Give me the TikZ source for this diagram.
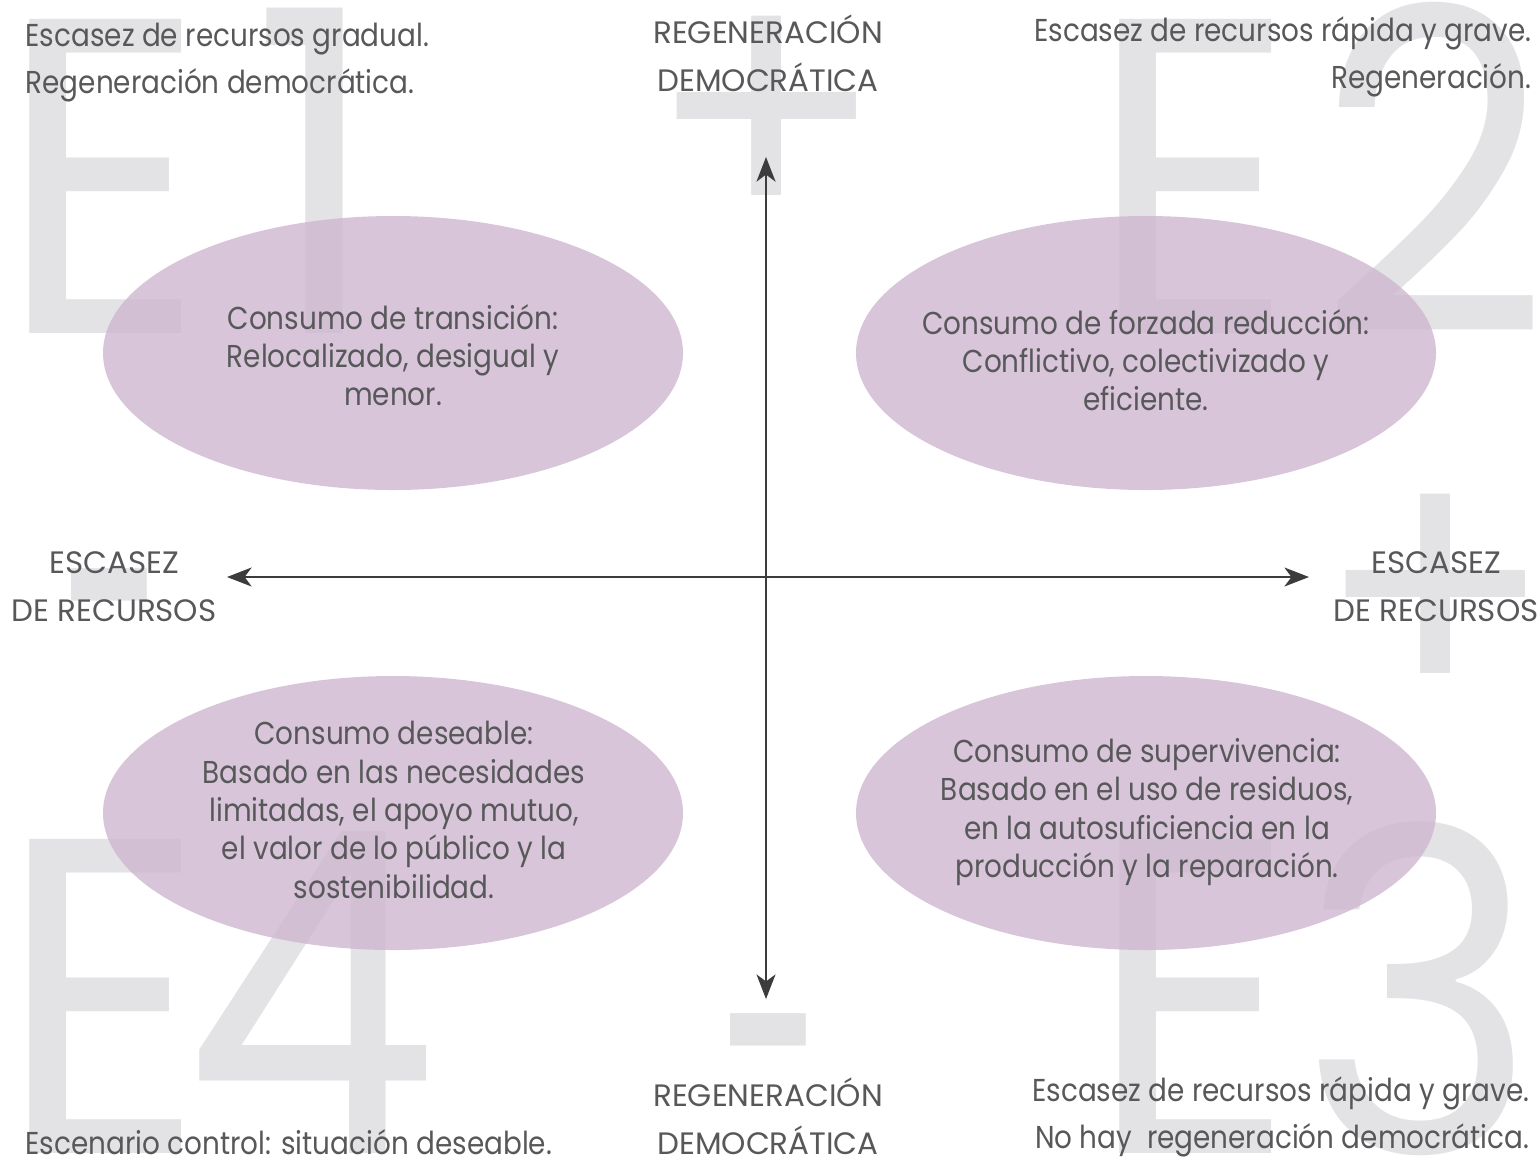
\documentclass[tikz,border=0pt]{standalone}
\usepackage{fontspec}
\setmainfont{Poppins}[FakeStretch=0.88]
\newfontfamily\capsfont{Poppins}
\newfontfamily\bigfont{Poppins}[FakeStretch=0.9]
\newfontfamily\dashfont{Poppins}[FakeStretch=0.45]
\usepackage{tikz}
\usetikzlibrary{arrows.meta}
\definecolor{txtgray}{RGB}{88,88,90}
\definecolor{biggray}{RGB}{227,227,229}
\definecolor{lila}{RGB}{206,183,208}
\definecolor{axisgray}{RGB}{60,60,62}

\begin{document}
\begin{tikzpicture}[x=0.01cm,y=-0.01cm,
	every node/.style={inner sep=0pt,text=txtgray,font=\fontsize{9}{13.4}\selectfont},
	bigtxt/.style={text=biggray,font=\bigfont\fontsize{128}{128}\selectfont},
	plustxt/.style={text=biggray,font=\capsfont\fontsize{100}{100}\selectfont},
	dashtxt/.style={text=biggray,anchor=base,font=\dashfont\fontsize{120}{120}\selectfont},
	scentxt/.style={align=center,font=\fontsize{9}{10.9}\selectfont},
	axlab/.style={align=center,font=\capsfont\fontsize{8.8}{13.6}\selectfont},
	axis/.style={draw=axisgray,line width=.6pt,{Stealth[length=7pt,width=5.4pt,inset=2pt]}-{Stealth[length=7pt,width=5.4pt,inset=2pt]}}]
	\useasboundingbox (0,0) rectangle (1540,1160);

	\node[bigtxt,anchor=base west] (big1) at (-2,333) {E\kern13pt 1};
	\node[bigtxt,anchor=base west] (big2) at (1088,333) {E\kern6pt 2};
	\node[bigtxt,anchor=base west] (big3) at (1088,1153) {E\kern1pt 3};
	\node[bigtxt,anchor=base west] (big4) at (-2,1153) {E\kern-6.5pt 4};

	\node[plustxt] (plusN) at (767,125) {+};
	\node[plustxt] (plusE) at (1436,603) {+};
	\node[dashtxt] (minS) at (772,1184) {-};
	\node[dashtxt] (minW) at (113,739) {-};

	\fill[lila,opacity=.8] (393,353) ellipse (290 and 137);
	\fill[lila,opacity=.8] (1146,353) ellipse (290 and 137);
	\fill[lila,opacity=.8] (1146,813) ellipse (290 and 137);
	\fill[lila,opacity=.8] (393,813) ellipse (290 and 137);

	\node[scentxt] (s1) at (393,355) {Consumo de transición:\\Relocalizado, desigual y\\menor.};
	\node[scentxt] (s2) at (1146,360) {Consumo de forzada reducción:\\Conflictivo, colectivizado y\\eficiente.};
	\node[scentxt] (s3) at (1147,812) {Consumo de supervivencia:\\Basado en el uso de residuos,\\en la autosuficiencia en la\\producción y la reparación.};
	\node[scentxt] (s4) at (394,810) {Consumo deseable:\\Basado en las necesidades\\limitadas, el apoyo mutuo,\\el valor de lo público y la\\sostenibilidad.};

	\coordinate (top) at (766,157);
	\coordinate (bot) at (766,999);
	\coordinate (left) at (227,577);
	\coordinate (right) at (1309,577);
	\draw[axis] (bot) -- (top);
	\draw[axis] (left) -- (right);

	\node[axlab] (regN) at (768,53) {REGENERACIÓN\\DEMOCRÁTICA};
	\node[axlab] (regS) at (768,1116) {REGENERACIÓN\\DEMOCRÁTICA};
	\node[axlab] (escW) at (114,587) {ESCASEZ\\DE RECURSOS};
	\node[axlab] (escE) at (1436,587) {ESCASEZ\\DE RECURSOS};

	\node[align=left,anchor=north west] (c1) at (25,22) {Escasez de recursos gradual.\\Regeneración democrática.};
	\node[align=right,anchor=north east] (c2) at (1532,16) {Escasez de recursos rápida y grave.\\Regeneración.};
	\node[align=right,anchor=south east] (c3) at (1530,1158) {Escasez de recursos rápida y grave.\\No hay~ regeneración democrática.};
	\node[align=left,anchor=south west] (c4) at (25,1155) {Escenario control: situación deseable.};
\end{tikzpicture}
\end{document}
